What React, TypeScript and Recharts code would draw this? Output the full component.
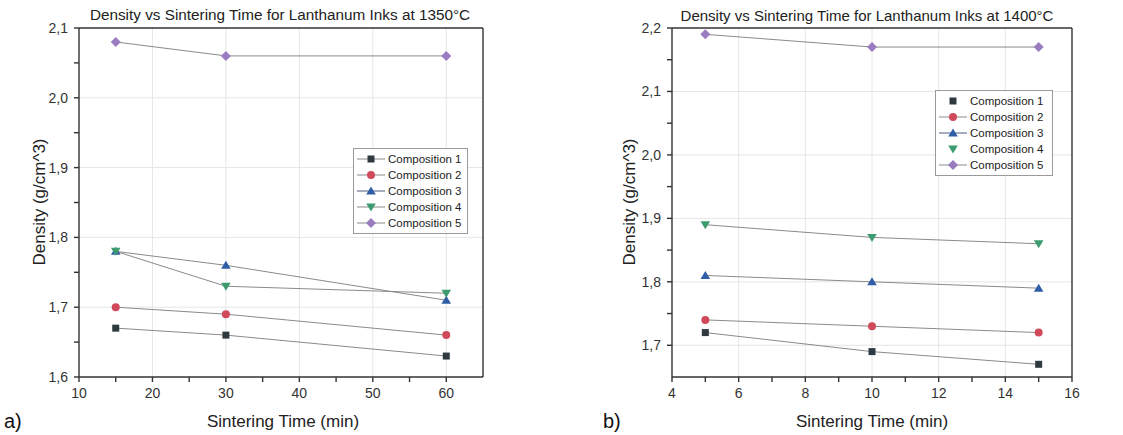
import React from 'react';
import { LineChart, Line, XAxis, YAxis, ReferenceLine } from 'recharts';

// ---------- data ----------
const leftTimes = [15, 30, 60];
const leftComp1 = [1.67, 1.66, 1.63];
const leftComp2 = [1.70, 1.69, 1.66];
const leftComp3 = [1.78, 1.76, 1.71];
const leftComp4 = [1.78, 1.73, 1.72];
const leftComp5 = [2.08, 2.06, 2.06];

const rightTimes = [5, 10, 15];
const rightComp1 = [1.72, 1.69, 1.67];
const rightComp2 = [1.74, 1.73, 1.72];
const rightComp3 = [1.81, 1.80, 1.79];
const rightComp4 = [1.89, 1.87, 1.86];
const rightComp5 = [2.19, 2.17, 2.17];

const seriesNames = ['Composition 1', 'Composition 2', 'Composition 3', 'Composition 4', 'Composition 5'];

const leftXTicks = [10, 15, 20, 25, 30, 35, 40, 45, 50, 55, 60];
const leftXMajor = [20, 30, 40, 50, 60];
const leftXLabels = [10, 20, 30, 40, 50, 60];
const leftYTicks = [1.6, 1.65, 1.7, 1.75, 1.8, 1.85, 1.9, 1.95, 2.0, 2.05, 2.1];
const leftYMajor = [1.7, 1.8, 1.9, 2.0];

const rightXTicks = [4, 5, 6, 7, 8, 9, 10, 11, 12, 13, 14, 15, 16];
const rightXMajor = [6, 8, 10, 12, 14];
const rightXLabels = [4, 6, 8, 10, 12, 14, 16];
const rightYTicks = [1.7, 1.75, 1.8, 1.85, 1.9, 1.95, 2.0, 2.05, 2.1, 2.15, 2.2];
const rightYMajor = [1.7, 1.8, 1.9, 2.0, 2.1];

// ---------- styles ----------
const COLORS = ['#2e3a40', '#d04a5c', '#2f5ea6', '#3c9c70', '#9a7cc0'];
const SHAPES = ['square', 'circle', 'up', 'down', 'diamond'];
const LINE_COLOR = '#8a8a8a';
const AXIS_COLOR = '#333';
const GRID_COLOR = '#e6e6e6';
const FONT = '"Liberation Sans", Arial, sans-serif';

const buildRows = (times: number[], cols: number[][]) =>
  times.map((t, i) => ({
    t,
    c1: cols[0][i],
    c2: cols[1][i],
    c3: cols[2][i],
    c4: cols[3][i],
    c5: cols[4][i],
  }));

const leftData = buildRows(leftTimes, [leftComp1, leftComp2, leftComp3, leftComp4, leftComp5]);
const rightData = buildRows(rightTimes, [rightComp1, rightComp2, rightComp3, rightComp4, rightComp5]);

function Marker({ shape, color, cx, cy }: { shape: string; color: string; cx: number; cy: number }) {
  if (shape === 'square') return <rect x={cx - 3.5} y={cy - 3.5} width={7} height={7} fill={color} />;
  if (shape === 'circle') return <circle cx={cx} cy={cy} r={4} fill={color} />;
  if (shape === 'up')
    return <polygon points={`${cx},${cy - 4.5} ${cx + 4.8},${cy + 3.5} ${cx - 4.8},${cy + 3.5}`} fill={color} />;
  if (shape === 'down')
    return <polygon points={`${cx},${cy + 4.5} ${cx + 4.8},${cy - 3.5} ${cx - 4.8},${cy - 3.5}`} fill={color} />;
  return <polygon points={`${cx},${cy - 5} ${cx + 5},${cy} ${cx},${cy + 5} ${cx - 5},${cy}`} fill={color} />;
}

const makeDot = (idx: number) => (props: any) => {
  const { cx, cy, index } = props;
  if (cx == null || cy == null) return <g key={`e-${idx}-${index}`} />;
  return (
    <g key={`d-${idx}-${index}`}>
      <Marker shape={SHAPES[idx]} color={COLORS[idx]} cx={cx} cy={cy} />
    </g>
  );
};

const fmt = (majors: number[], digits: number) => (v: number) =>
  majors.some((m) => Math.abs(m - v) < 1e-9) ? v.toFixed(digits).replace('.', ',') : '';

function Legend({ left, top, width, showLine }: { left: number; top: number; width: number; showLine: boolean[] }) {
  return (
    <div
      style={{
        position: 'absolute',
        left,
        top,
        width,
        border: '1px solid #9a9a9a',
        background: '#fff',
        padding: '2px 0',
        boxSizing: 'border-box',
      }}
    >
      {seriesNames.map((n, i) => (
        <div key={n} style={{ display: 'flex', alignItems: 'center', height: 16 }}>
          <svg width={34} height={16} style={{ flex: 'none' }}>
            {showLine[i] && <line x1={3} y1={8} x2={31} y2={8} stroke={i === 2 ? '#4a5a80' : LINE_COLOR} strokeWidth={1} />}
            <Marker shape={SHAPES[i]} color={COLORS[i]} cx={17} cy={8} />
          </svg>
          <span style={{ fontSize: 11.5, color: '#222', fontFamily: FONT, whiteSpace: 'nowrap' }}>{n}</span>
        </div>
      ))}
    </div>
  );
}

function Panel(props: {
  data: any[];
  xDomain: [number, number];
  yDomain: [number, number];
  xTicks: number[];
  xMajor: number[];
  yTicks: number[];
  yMajor: number[];
  xLabelMajor: number[];
  width: number;
  margin: { top: number; right: number; bottom: number; left: number };
}) {
  const { data, xDomain, yDomain, xTicks, xMajor, yTicks, yMajor, xLabelMajor, width, margin } = props;
  const tickStyle = { fontSize: 14, fill: '#333', fontFamily: FONT };
  return (
    <LineChart width={width} height={435} data={data} margin={margin}>
      <XAxis
        type="number"
        dataKey="t"
        domain={xDomain}
        ticks={xTicks}
        interval={0}
        tickFormatter={(v: number) => (xLabelMajor.includes(v) ? String(v) : '')}
        tick={tickStyle}
        tickSize={5}
        tickMargin={6}
        height={25}
        stroke={AXIS_COLOR}
        strokeWidth={1.4}
        allowDataOverflow
      />
      <YAxis
        type="number"
        domain={yDomain}
        ticks={yTicks}
        interval={0}
        tickFormatter={fmt(yMajor.concat([yDomain[0], yDomain[1]]), 1)}
        tick={tickStyle}
        tickSize={5}
        tickMargin={6}
        width={60}
        stroke={AXIS_COLOR}
        strokeWidth={1.4}
        allowDataOverflow
      />
      {xMajor.map((v) => (
        <ReferenceLine key={`gx${v}`} x={v} stroke={GRID_COLOR} strokeWidth={1} />
      ))}
      {yMajor.map((v) => (
        <ReferenceLine key={`gy${v}`} y={v} stroke={GRID_COLOR} strokeWidth={1} />
      ))}
      <ReferenceLine x={xDomain[1]} stroke={AXIS_COLOR} strokeWidth={1.4} />
      <ReferenceLine y={yDomain[1]} stroke={AXIS_COLOR} strokeWidth={1.4} />
      {['c1', 'c2', 'c3', 'c4', 'c5'].map((k, i) => (
        <Line
          key={k}
          dataKey={k}
          stroke={LINE_COLOR}
          strokeWidth={1}
          dot={makeDot(i)}
          activeDot={false}
          isAnimationActive={false}
        />
      ))}
    </LineChart>
  );
}

const textBase: React.CSSProperties = {
  position: 'absolute',
  fontFamily: FONT,
  color: '#222',
  whiteSpace: 'nowrap',
};

export default function App() {
  return (
    <div style={{ position: 'absolute', left: 0, top: 0, width: 1123, height: 435, background: '#fff', overflow: 'hidden' }}>
      {/* Left panel */}
      <div style={{ position: 'absolute', left: 0, top: 0 }}>
        <Panel
          data={leftData}
          xDomain={[10, 65]}
          yDomain={[1.6, 2.1]}
          xTicks={leftXTicks}
          xMajor={leftXMajor}
          yTicks={leftYTicks}
          yMajor={leftYMajor}
          xLabelMajor={leftXLabels}
          width={560}
          margin={{ top: 28, right: 77, bottom: 33, left: 19 }}
        />
      </div>
      {/* Right panel */}
      <div style={{ position: 'absolute', left: 560, top: 0 }}>
        <Panel
          data={rightData}
          xDomain={[4, 16]}
          yDomain={[1.65, 2.2]}
          xTicks={rightXTicks}
          xMajor={rightXMajor}
          yTicks={rightYTicks}
          yMajor={rightYMajor}
          xLabelMajor={rightXLabels}
          width={563}
          margin={{ top: 28, right: 51, bottom: 33, left: 52 }}
        />
      </div>

      {/* Titles */}
      <div style={{ ...textBase, left: 280, top: 15, transform: 'translate(-50%, -50%)', fontSize: 15.3 }}>
        Density vs Sintering Time for Lanthanum Inks at 1350°C
      </div>
      <div style={{ ...textBase, left: 867, top: 15, transform: 'translate(-50%, -50%)', fontSize: 15 }}>
        Density vs Sintering Time for Lanthanum Inks at 1400°C
      </div>

      {/* Axis titles */}
      <div style={{ ...textBase, left: 283, top: 422, transform: 'translate(-50%, -50%)', fontSize: 17 }}>
        Sintering Time (min)
      </div>
      <div style={{ ...textBase, left: 872, top: 422, transform: 'translate(-50%, -50%)', fontSize: 17 }}>
        Sintering Time (min)
      </div>
      <div style={{ ...textBase, left: 40, top: 202, transform: 'translate(-50%, -50%) rotate(-90deg)', fontSize: 17 }}>
        Density (g/cm^3)
      </div>
      <div style={{ ...textBase, left: 630, top: 202, transform: 'translate(-50%, -50%) rotate(-90deg)', fontSize: 17 }}>
        Density (g/cm^3)
      </div>

      {/* Panel letters */}
      <div style={{ ...textBase, left: 4, top: 410, fontSize: 20, color: '#111' }}>a)</div>
      <div style={{ ...textBase, left: 603, top: 410, fontSize: 20, color: '#111' }}>b)</div>

      {/* Legends */}
      <Legend left={353} top={148} width={115} showLine={[true, true, true, true, true]} />
      <Legend left={935} top={90} width={118} showLine={[false, true, true, false, true]} />
    </div>
  );
}
